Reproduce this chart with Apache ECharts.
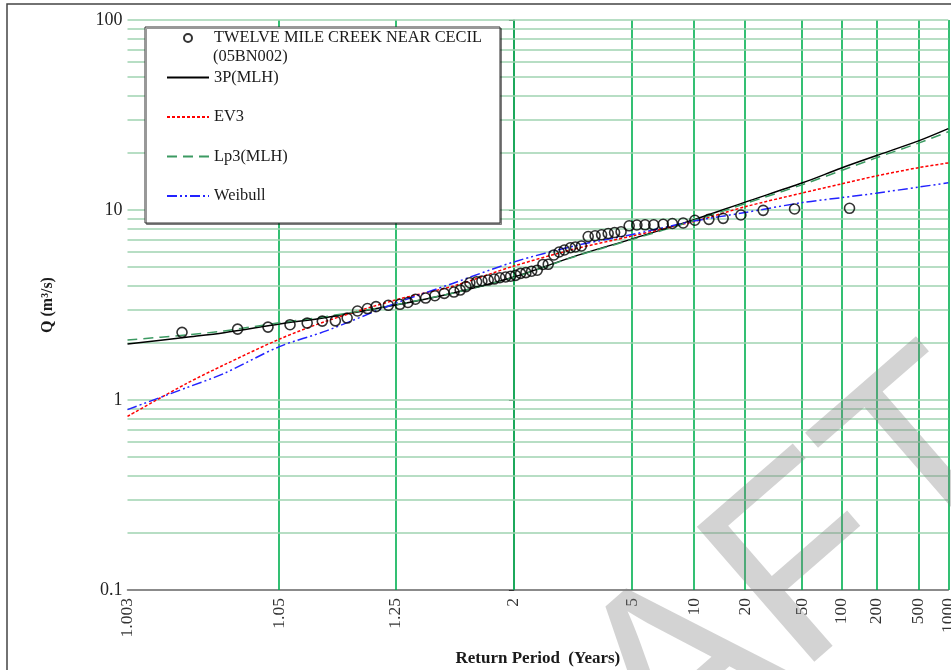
<!DOCTYPE html>
<html>
<head>
<meta charset="utf-8">
<title>Twelve Mile Creek near Cecil - flood frequency</title>
<script src="https://cdn.jsdelivr.net/npm/echarts@6/dist/echarts.min.js"></script>
<style>
  html, body { margin: 0; padding: 0; background: #fff; }
  #main { width: 951px; height: 670px; }
</style>
</head>
<body>
<div id="main"></div>
<script>
// return period ticks on the probability axis (years)
var periodTicks = [1.003, 1.05, 1.25, 2, 5, 10, 20, 50, 100, 200, 500, 1000];
// horizontal grid lines on the log flow axis
var flowLines = [0.2, 0.3, 0.4, 0.5, 0.6, 0.7, 0.8, 0.9, 1, 2, 3, 4, 5, 6, 7, 8, 9, 10, 20, 30, 40, 50, 60, 70, 80, 90, 100];

// observed annual peaks, plotting position (years) and flow (m3/s)
var obsPeriod = [1.0092, 1.0253, 1.0418, 1.0589, 1.0761, 1.0946, 1.1136, 1.1335, 1.1533, 1.1747,
  1.1952, 1.2283, 1.2638, 1.2910, 1.3189, 1.3605, 1.4025, 1.4495, 1.5034, 1.5413,
  1.5787, 1.6052, 1.6542, 1.6949, 1.7467, 1.7999, 1.8527, 1.9103, 1.9632, 2.0194,
  2.079, 2.146, 2.223, 2.303, 2.391, 2.478, 2.577, 2.676, 2.780, 2.908,
  3.022, 3.169, 3.349, 3.549, 3.754, 3.981, 4.221, 4.486, 4.852, 5.241,
  5.701, 6.250, 6.940, 7.704, 8.749, 10.10, 12.09, 14.64, 18.80, 26.25,
  43.6, 117.9];
var obsFlow = [2.27, 2.36, 2.42, 2.49, 2.54, 2.60, 2.61, 2.70, 2.94, 3.03,
  3.10, 3.15, 3.19, 3.26, 3.39, 3.44, 3.54, 3.64, 3.70, 3.79,
  3.95, 4.14, 4.19, 4.23, 4.28, 4.33, 4.40, 4.44, 4.48, 4.53,
  4.64, 4.68, 4.76, 4.82, 5.17, 5.18, 5.80, 6.01, 6.16, 6.33,
  6.39, 6.47, 7.25, 7.32, 7.41, 7.52, 7.61, 7.68, 8.26, 8.34,
  8.36, 8.36, 8.41, 8.49, 8.54, 8.83, 8.93, 9.04, 9.41, 9.96,
  10.12, 10.21];

// fitted distributions
var curvePeriod = [1.003, 1.01, 1.02, 1.05, 1.1, 1.25, 1.5, 2, 3, 5, 10, 20, 50, 100, 200, 500, 1000];
var flow3P      = [1.97, 2.14, 2.26, 2.51, 2.72, 3.16, 3.66, 4.44, 5.70, 7.05, 8.90, 11.0, 13.9, 16.6, 19.3, 23.1, 26.8];
var flowEV3     = [0.82, 1.22, 1.53, 2.09, 2.60, 3.36, 3.98, 5.07, 6.23, 7.30, 8.70, 10.4, 12.3, 13.7, 15.1, 16.7, 17.7];
var flowLP3     = [2.07, 2.20, 2.31, 2.55, 2.75, 3.17, 3.66, 4.42, 5.68, 7.00, 8.80, 10.8, 13.6, 16.1, 18.8, 22.5, 25.8];
var flowWeibull = [0.89, 1.16, 1.38, 1.91, 2.31, 3.23, 4.12, 5.33, 6.47, 7.43, 8.75, 9.70, 10.95, 11.6, 12.25, 13.2, 13.9];

// standard normal quantile (Acklam), used for the probability-paper x axis
function normInv(p) {
  var a = [-3.969683028665376e+01, 2.209460984245205e+02, -2.759285104469687e+02, 1.383577518672690e+02, -3.066479806614716e+01, 2.506628277459239e+00];
  var b = [-5.447609879822406e+01, 1.615858368580409e+02, -1.556989798598866e+02, 6.680131188771972e+01, -1.328068155288572e+01];
  var c = [-7.784894002430293e-03, -3.223964580411365e-01, -2.400758277161838e+00, -2.549732539343734e+00, 4.374664141464968e+00, 2.938163982698783e+00];
  var d = [7.784695709041462e-03, 3.224671290700398e-01, 2.445134137142996e+00, 3.754408661907416e+00];
  var pl = 0.02425, q, r;
  if (p < pl) {
    q = Math.sqrt(-2 * Math.log(p));
    return (((((c[0]*q+c[1])*q+c[2])*q+c[3])*q+c[4])*q+c[5]) / ((((d[0]*q+d[1])*q+d[2])*q+d[3])*q+1);
  }
  if (p > 1 - pl) {
    q = Math.sqrt(-2 * Math.log(1 - p));
    return -(((((c[0]*q+c[1])*q+c[2])*q+c[3])*q+c[4])*q+c[5]) / ((((d[0]*q+d[1])*q+d[2])*q+d[3])*q+1);
  }
  q = p - 0.5; r = q * q;
  return (((((a[0]*r+a[1])*r+a[2])*r+a[3])*r+a[4])*r+a[5])*q / (((((b[0]*r+b[1])*r+b[2])*r+b[3])*r+b[4])*r+1);
}
function toZ(T) { return normInv(1 - 1 / T); }

function pairs(periods, flows) {
  return periods.map(function (t, i) { return [toZ(t), flows[i]]; });
}

var serif = '"Liberation Serif", "Times New Roman", serif';
var tickZ = periodTicks.map(toZ);

// grid lines, drawn as mark lines so they sit on the real tick values
var gridLines = tickZ.map(function (z) {
  return { xAxis: z, lineStyle: { color: '#00b050', width: 1.6, type: 'solid' } };
}).concat(flowLines.map(function (v) {
  return { yAxis: v, lineStyle: { color: '#9fd3b1', width: 1.6, type: 'solid' } };
}));

var noDot = { opacity: 0 };

var chart = echarts.init(document.getElementById('main'));
chart.setOption({
  animation: false,
  backgroundColor: '#fff',
  grid: { left: 127.5, right: 2.7, top: 20, bottom: 80, outerBoundsMode: 'none', containLabel: false },
  xAxis: {
    type: 'value',
    min: toZ(1.003),
    max: toZ(1000),
    name: 'Return Period  (Years)',
    nameLocation: 'middle',
    nameGap: 60,
    nameTextStyle: { fontFamily: serif, fontWeight: 'bold', fontSize: 17, color: '#1a1a1a' },
    axisLine: { show: true, lineStyle: { color: '#666', width: 1.5 } },
    axisTick: { show: false },
    splitLine: { show: false },
    axisLabel: {
      customValues: tickZ,
      rotate: 90,
      margin: 8,
      hideOverlap: false,
      fontFamily: serif,
      fontSize: 17.5,
      color: '#333',
      formatter: function (v) {
        for (var i = 0; i < tickZ.length; i++) {
          if (Math.abs(tickZ[i] - v) < 1e-6) return String(periodTicks[i]);
        }
        return '';
      }
    }
  },
  yAxis: {
    type: 'log',
    logBase: 10,
    min: 0.1,
    max: 100,
    name: 'Q (m\u00b3/s)',
    nameLocation: 'middle',
    nameGap: 72,
    nameTextStyle: { fontFamily: serif, fontWeight: 'bold', fontSize: 16, color: '#1a1a1a' },
    axisLine: { show: true, lineStyle: { color: '#666', width: 1.5 } },
    axisTick: { show: true, length: 5, lineStyle: { color: '#333' } },
    splitLine: { show: false },
    axisLabel: {
      margin: 5,
      fontFamily: serif,
      fontSize: 18,
      color: '#222',
      formatter: function (v) { return String(v); }
    }
  },
  legend: {
    orient: 'vertical',
    left: 145,
    top: 27,
    z: 10,
    padding: [1, 18, 17, 21],
    itemGap: 19.5,
    itemWidth: 42,
    itemHeight: 8,
    backgroundColor: '#fff',
    borderColor: '#333',
    borderWidth: 1,
    shadowColor: 'rgba(0,0,0,0.4)',
    shadowOffsetX: 1.5,
    shadowOffsetY: 1.5,
    shadowBlur: 0,
    textStyle: { fontFamily: serif, fontSize: 16.4, lineHeight: 20, color: '#1a1a1a' },
    data: [
      'TWELVE MILE CREEK NEAR CECIL',
      { name: '3P(MLH)', itemStyle: noDot },
      { name: 'EV3', itemStyle: noDot },
      { name: 'Lp3(MLH)', itemStyle: noDot },
      { name: 'Weibull', itemStyle: noDot }
    ]
  },
  graphic: [
    {
      type: 'text', left: 213, top: 49, z: 100,
      style: { text: '(05BN002)', font: '16.4px ' + serif, fill: '#1a1a1a' }
    },
    {
      type: 'rect', z: 100, silent: true,
      shape: { x: 7, y: 4, width: 1000, height: 1000 },
      style: { fill: 'none', stroke: '#444', lineWidth: 1.5 }
    },
    {
      type: 'text', z: 200, silent: true,
      x: 337, y: 982, rotation: 0.716,
      style: {
        text: 'DRAFT', x: 0, y: 0, align: 'left', verticalAlign: 'middle',
        font: '260px "Liberation Sans", Arial, sans-serif',
        fill: 'rgba(128,128,128,0.35)'
      }
    }
  ],
  series: [
    {
      name: 'grid',
      type: 'line',
      data: [],
      z: 1,
      silent: true,
      markLine: {
        z: 1,
        silent: true,
        symbol: ['none', 'none'],
        label: { show: false },
        data: gridLines
      }
    },
    {
      name: 'TWELVE MILE CREEK NEAR CECIL',
      type: 'scatter',
      z: 5,
      symbol: 'circle',
      symbolSize: 10,
      symbolKeepAspect: true,
      itemStyle: { color: 'rgba(255,255,255,0)', borderColor: '#000', borderWidth: 1.6 },
      data: pairs(obsPeriod, obsFlow)
    },
    {
      name: '3P(MLH)',
      type: 'line', z: 4, symbol: 'none', smooth: 0.3,
      itemStyle: { color: '#000' },
      lineStyle: { color: '#000', width: 1.5 },
      data: pairs(curvePeriod, flow3P)
    },
    {
      name: 'EV3',
      type: 'line', z: 4, symbol: 'none', smooth: 0.3,
      itemStyle: { color: '#ff0000' },
      lineStyle: { color: '#ff0000', width: 1.5, type: [3, 2] },
      data: pairs(curvePeriod, flowEV3)
    },
    {
      name: 'Lp3(MLH)',
      type: 'line', z: 4, symbol: 'none', smooth: 0.3,
      itemStyle: { color: '#3c9a62' },
      lineStyle: { color: '#3c9a62', width: 1.5, type: [10, 6] },
      data: pairs(curvePeriod, flowLP3)
    },
    {
      name: 'Weibull',
      type: 'line', z: 4, symbol: 'none', smooth: 0.3,
      itemStyle: { color: '#2222ff' },
      lineStyle: { color: '#2222ff', width: 1.5, type: [10, 3, 2, 3, 2, 3] },
      data: pairs(curvePeriod, flowWeibull)
    }
  ]
});
</script>
</body>
</html>
